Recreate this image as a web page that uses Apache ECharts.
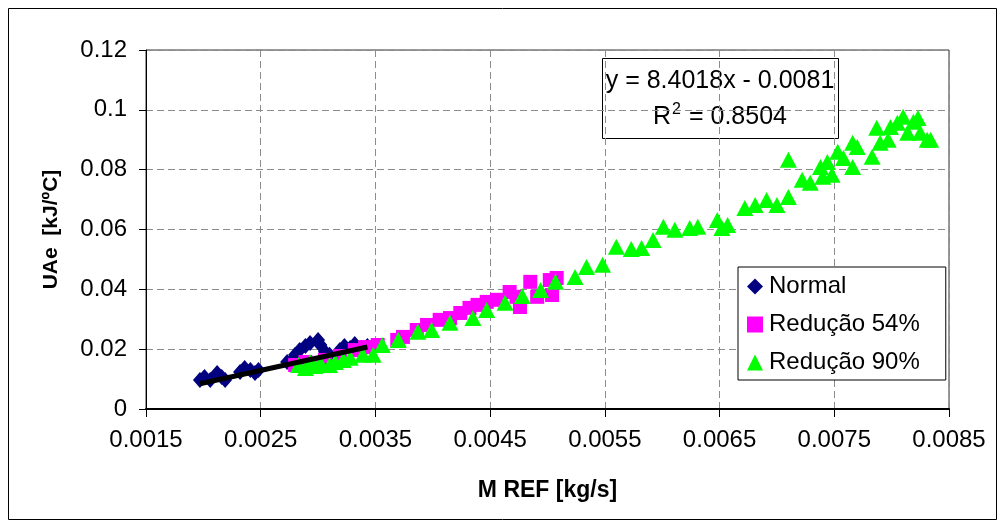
<!DOCTYPE html>
<html>
<head>
<meta charset="utf-8">
<script src="https://cdn.jsdelivr.net/npm/echarts@6/dist/echarts.min.js"></script>
<style>
html,body{margin:0;padding:0;background:#fff;}
#c{width:1001px;height:527px;}
</style>
</head>
<body>
<div id="c"></div>
<script>
// ---- data ----
const seriesNames = ['Normal', 'Redução 54%', 'Redução 90%'];

const normalX = [0.00197,0.00201,0.00206,0.00212,0.00216,0.00219,0.00232,0.00236,0.00241,0.00245,0.00248,
  0.00273,0.00276,0.00280,0.00280,0.00284,0.00289,0.00293,0.00300,0.00302,0.00306,0.00310,0.00319,0.00323,0.00328,0.00332,0.00338,0.00343];
const normalY = [0.0097,0.0107,0.0097,0.0120,0.0107,0.0097,0.0124,0.0137,0.0130,0.0120,0.0130,
  0.0157,0.0157,0.0181,0.0147,0.0197,0.0211,0.0221,0.0231,0.0214,0.0191,0.0181,0.0197,0.0211,0.0204,0.0217,0.0204,0.0211];

const red54X = [0.00280,0.00289,0.00297,0.00306,0.00319,0.00332,0.00341,0.00352,0.00369,0.00374,0.00386,0.00395,
  0.00406,0.00415,0.00424,0.00432,0.00439,0.00447,0.00456,0.00467,0.00473,0.00476,0.00485,0.00491,0.00502,0.00508,0.00504];
const red54Y = [0.0147,0.0157,0.0151,0.0164,0.0177,0.0197,0.0207,0.0214,0.0231,0.0241,0.0264,0.0281,
  0.0298,0.0304,0.0321,0.0338,0.0348,0.0358,0.0365,0.0391,0.0375,0.0341,0.0425,0.0375,0.0431,0.0438,0.0381];

const red90X = [0.00283,0.00289,0.00293,0.00297,0.00302,0.00310,0.00315,0.00322,0.00328,0.00339,0.00348,0.00356,
  0.00370,0.00387,0.00399,0.00415,0.00435,0.00447,0.00463,0.00478,0.00494,0.00507,0.00524,0.00534,0.00548,
  0.00560,0.00573,0.00582,0.00592,0.00601,0.00611,0.00624,0.00631,0.00648,0.00652,0.00657,0.00672,0.00681,
  0.00691,0.00700,0.00710,0.00710,0.00722,0.00729,0.00738,0.00740,0.00744,0.00748,0.00753,0.00758,0.00766,
  0.00766,0.00770,0.00783,0.00787,0.00790,0.00797,0.00799,0.00805,0.00810,0.00814,0.00819,0.00823,0.00825,0.00831,0.00834];
const red90Y = [0.0147,0.0137,0.0157,0.0144,0.0154,0.0147,0.0157,0.0164,0.0171,0.0181,0.0181,0.0214,
  0.0231,0.0258,0.0264,0.0288,0.0304,0.0331,0.0355,0.0378,0.0398,0.0425,0.0441,0.0475,0.0482,
  0.0542,0.0535,0.0538,0.0565,0.0609,0.0599,0.0605,0.0609,0.0632,0.0605,0.0615,0.0672,0.0682,
  0.0699,0.0682,0.0709,0.0833,0.0766,0.0756,0.0809,0.0776,0.0826,0.0783,0.0860,0.0839,0.0809,
  0.0890,0.0876,0.0843,0.0940,0.0890,0.0900,0.0943,0.0957,0.0977,0.0923,0.0960,0.0973,0.0923,0.0900,0.0900];

const trendSlope = 8.4018;
const trendIntercept = -0.0081;
const trendR2 = '0.8504';

const xTicks = ['0.0015','0.0025','0.0035','0.0045','0.0055','0.0065','0.0075','0.0085'];
const yTicks = ['0','0.02','0.04','0.06','0.08','0.1','0.12'];

// ---- build ----
const pairs = (xs, ys) => xs.map((x, i) => [x, ys[i]]);
const xMin = Math.min(...normalX), xMax = Math.max(...normalX);
const trendData = [[xMin, trendSlope * xMin + trendIntercept], [xMax, trendSlope * xMax + trendIntercept]];

const FONT = "'Liberation Sans', Arial, sans-serif";
const chart = echarts.init(document.getElementById('c'), null, {renderer: 'canvas'});

chart.setOption({
  animation: false,
  backgroundColor: '#fff',
  grid: {left: 146, right: 52, top: 50, bottom: 118, show: true, borderColor: '#333', borderWidth: 1, backgroundColor: '#fff'},
  xAxis: {
    type: 'value', min: 0.0015, max: 0.0085, interval: 0.001,
    name: 'M REF [kg/s]', nameLocation: 'middle', nameGap: 70,
    nameTextStyle: {fontFamily: FONT, fontSize: 23, fontWeight: 'bold', color: '#000'},
    axisLine: {show: true, lineStyle: {color: '#000', width: 2}},
    axisTick: {show: true, length: 8, lineStyle: {color: '#000'}},
    axisLabel: {fontFamily: FONT, fontSize: 24, color: '#000', margin: 19,
      formatter: v => { const i = Math.round((v - 0.0015) / 0.001); return xTicks[i] !== undefined ? xTicks[i] : ''; }},
    splitLine: {show: true, lineStyle: {color: '#8c8c8c', type: [7, 4], width: 1}}
  },
  yAxis: {
    type: 'value', min: 0, max: 0.12, interval: 0.02,
    name: 'UAe  [kJ/ºC]', nameLocation: 'middle', nameGap: 84,
    nameTextStyle: {fontFamily: FONT, fontSize: 21, fontWeight: 'bold', color: '#000'},
    axisLine: {show: true, lineStyle: {color: '#000', width: 1}},
    axisTick: {show: true, length: 7, lineStyle: {color: '#000'}},
    axisLabel: {fontFamily: FONT, fontSize: 24, color: '#000', margin: 19,
      formatter: v => { const i = Math.round(v / 0.02); return yTicks[i] !== undefined ? yTicks[i] : ''; }},
    splitLine: {show: true, lineStyle: {color: '#8c8c8c', type: [7, 4], width: 1}}
  },
  legend: {
    orient: 'vertical', left: 738, top: 267,
    data: seriesNames,
    backgroundColor: '#fff', borderColor: '#000', borderWidth: 1,
    padding: [6, 26, 4, 9], itemGap: 11, itemWidth: 16, itemHeight: 16,
    textStyle: {fontFamily: FONT, fontSize: 24, color: '#000', lineHeight: 27, padding: [0, 0, 0, 1]},
    z: 10
  },
  series: [
    {name: seriesNames[0], type: 'scatter', symbol: 'diamond', symbolSize: [14, 16],
      itemStyle: {color: '#000080', opacity: 1}, data: pairs(normalX, normalY)},
    {name: seriesNames[1], type: 'scatter', symbol: 'rect', symbolSize: 14,
      itemStyle: {color: '#ff00ff', opacity: 1}, data: pairs(red54X, red54Y)},
    {name: seriesNames[2], type: 'scatter', symbol: 'triangle', symbolSize: [17, 16],
      itemStyle: {color: '#00ff00', opacity: 1}, data: pairs(red90X, red90Y)},
    {name: 'trend', type: 'line', data: trendData, showSymbol: false, symbol: 'none',
      lineStyle: {color: '#000', width: 5}, silent: true, z: 5}
  ],
  graphic: [
    {type: 'rect', shape: {x: 8.5, y: 8.5, width: 988, height: 511}, style: {fill: 'none', stroke: '#000', lineWidth: 1}, silent: true, z: 0},
    {type: 'group', z: 100, children: [
      {type: 'rect', shape: {x: 602.5, y: 58.5, width: 236, height: 80}, style: {fill: '#fff', stroke: '#000', lineWidth: 1}},
      {type: 'text', x: 720, y: 81, style: {text: 'y = ' + trendSlope.toFixed(4) + 'x - ' + Math.abs(trendIntercept).toFixed(4),
        font: '25px ' + FONT, fill: '#000', textAlign: 'center', textVerticalAlign: 'middle'}},
      {type: 'text', x: 720, y: 116, style: {text: '{a|R}{s|2}{a| = ' + trendR2 + '}',
        textAlign: 'center', textVerticalAlign: 'middle',
        rich: {a: {font: '25px ' + FONT, fill: '#000', color: '#000', lineHeight: 28, verticalAlign: 'bottom'},
               s: {font: '16px ' + FONT, fill: '#000', color: '#000', lineHeight: 28, verticalAlign: 'top', padding: [0, 1, 0, 1]}}}}
    ]}
  ]
});
</script>
</body>
</html>
